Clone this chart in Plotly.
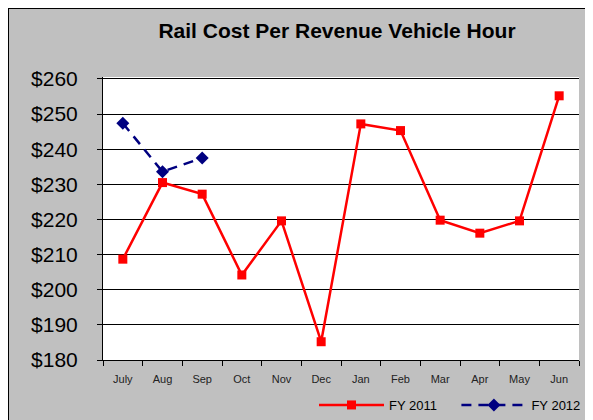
import plotly.graph_objects as go

months = ["July", "Aug", "Sep", "Oct", "Nov", "Dec", "Jan", "Feb", "Mar", "Apr", "May", "Jun"]
fy2011 = [208.7, 230.5, 227.2, 204.2, 219.6, 185.2, 247.2, 245.3, 219.8, 216.1, 219.6, 255.2]
fy2012_months = ["July", "Aug", "Sep"]
fy2012 = [247.4, 233.6, 237.5]
y_ticks = [180, 190, 200, 210, 220, 230, 240, 250, 260]
y_labels = ["$180", "$190", "$200", "$210", "$220", "$230", "$240", "$250", "$260"]

fig = go.Figure()
fig.add_trace(go.Scatter(
    x=months, y=fy2011, name="FY 2011" + "&nbsp;" * 4, mode="lines+markers",
    line=dict(color="#FF0000", width=2.5),
    marker=dict(symbol="square", size=9, color="#FF0000"),
))
fig.add_trace(go.Scatter(
    x=fy2012_months, y=fy2012, name="FY 2012", mode="lines+markers",
    line=dict(color="#000080", width=2.5, dash="10px,7px"),
    marker=dict(symbol="diamond", size=10, color="#000080"),
))

# page has an 8px body margin; work in screenshot pixels
OFF = 8
W, H = 593 - OFF, 420 - OFF
ml, mr, mt, mb = 103 - OFF, 14, 77 - OFF, 60
pw, ph = W - ml - mr, H - mt - mb

def px_x(x):
    return (x - OFF - ml) / pw

def px_y(y):
    return (H - mb - (y - OFF)) / ph

fig.update_layout(
    width=W, height=H,
    margin=dict(l=ml, r=mr, t=mt, b=mb, pad=0, autoexpand=False),
    paper_bgcolor="#C0C0C0",
    plot_bgcolor="#FFFFFF",
    font=dict(family="Liberation Sans, Arial, sans-serif", color="#000000"),
    title=dict(text="<b>Rail Cost Per Revenue Vehicle Hour</b>", x=(337 - OFF) / W, xanchor="center",
               y=1 - (31 - OFF) / H, yanchor="middle", font=dict(size=21, color="#000000")),
    showlegend=True,
    legend=dict(orientation="h", x=px_x(586), xanchor="right", y=px_y(405), yanchor="middle",
                bgcolor="rgba(0,0,0,0)", font=dict(size=13, color="#000000"),
                itemwidth=65, traceorder="normal"),
    xaxis=dict(
        type="category", categoryorder="array", categoryarray=months,
        range=[-0.5, 11.5], showgrid=False, showline=True, linecolor="#000000", linewidth=1,
        ticks="outside", tickson="boundaries", ticklen=5, tickcolor="#000000",
        ticklabelstandoff=9,
        tickfont=dict(size=11, color="#222222"), fixedrange=True,
    ),
    yaxis=dict(
        range=[180, 260.55], tickvals=y_ticks, ticktext=y_labels,
        showgrid=True, gridcolor="#000000", gridwidth=1,
        showline=True, linecolor="#000000", linewidth=1,
        ticks="outside", ticklen=5, tickcolor="#000000", ticklabelstandoff=15,
        tickfont=dict(size=21, color="#000000"), zeroline=False, fixedrange=True,
    ),
    shapes=[
        dict(type="line", xref="paper", yref="paper", x0=px_x(8), x1=px_x(8), y0=px_y(425), y1=px_y(8),
             line=dict(color="#000000", width=2), layer="above"),
        dict(type="line", xref="paper", yref="paper", x0=px_x(8), x1=px_x(600), y0=px_y(8), y1=px_y(8),
             line=dict(color="#000000", width=2), layer="above"),
    ],
)

fig.write_html("out.html")
